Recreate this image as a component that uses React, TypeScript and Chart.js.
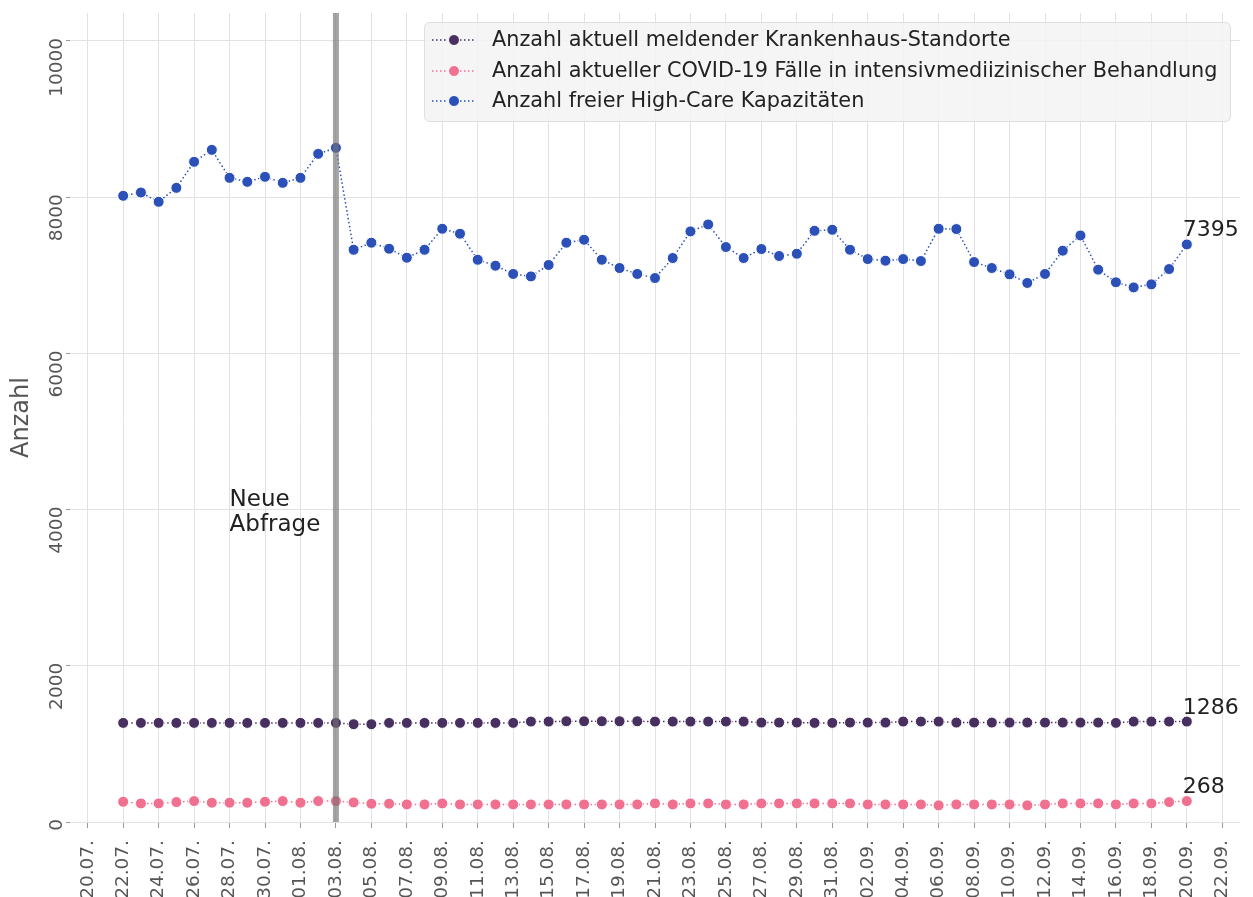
import React, { useEffect, useRef } from 'react';
import { Chart, registerables } from 'chart.js';

Chart.register(...registerables);

const dates = [
  '22.07.', '23.07.', '24.07.', '25.07.', '26.07.', '27.07.', '28.07.', '29.07.', '30.07.', '31.07.',
  '01.08.', '02.08.', '03.08.', '04.08.', '05.08.', '06.08.', '07.08.', '08.08.', '09.08.', '10.08.',
  '11.08.', '12.08.', '13.08.', '14.08.', '15.08.', '16.08.', '17.08.', '18.08.', '19.08.', '20.08.',
  '21.08.', '22.08.', '23.08.', '24.08.', '25.08.', '26.08.', '27.08.', '28.08.', '29.08.', '30.08.',
  '31.08.', '01.09.', '02.09.', '03.09.', '04.09.', '05.09.', '06.09.', '07.09.', '08.09.', '09.09.',
  '10.09.', '11.09.', '12.09.', '13.09.', '14.09.', '15.09.', '16.09.', '17.09.', '18.09.', '19.09.',
  '20.09.',
];

const tickLabels = [
  '20.07.', '22.07.', '24.07.', '26.07.', '28.07.', '30.07.', '01.08.', '03.08.', '05.08.', '07.08.',
  '09.08.', '11.08.', '13.08.', '15.08.', '17.08.', '19.08.', '21.08.', '23.08.', '25.08.', '27.08.',
  '29.08.', '31.08.', '02.09.', '04.09.', '06.09.', '08.09.', '10.09.', '12.09.', '14.09.', '16.09.',
  '18.09.', '20.09.', '22.09.',
];

const yTicks = [0, 2000, 4000, 6000, 8000, 10000];

const standorte = [
  1269, 1269, 1269, 1269, 1269, 1269, 1269, 1269, 1269, 1269,
  1269, 1269, 1269, 1252, 1252, 1269, 1269, 1269, 1269, 1269,
  1269, 1269, 1269, 1286, 1286, 1290, 1290, 1290, 1290, 1290,
  1286, 1286, 1286, 1286, 1286, 1286, 1273, 1273, 1273, 1269,
  1269, 1273, 1273, 1273, 1286, 1286, 1286, 1273, 1273, 1273,
  1273, 1273, 1273, 1273, 1273, 1273, 1269, 1286, 1286, 1286,
  1286,
];

const covidIcu = [
  259, 238, 238, 255, 268, 247, 247, 247, 259, 268,
  247, 268, 268, 251, 234, 234, 225, 225, 238, 225,
  225, 225, 225, 225, 225, 225, 225, 225, 225, 225,
  238, 225, 238, 238, 225, 225, 238, 238, 238, 238,
  238, 238, 225, 225, 225, 225, 213, 225, 225, 225,
  225, 213, 225, 238, 238, 238, 225, 238, 238, 255,
  268,
];

const highCare = [
  8018, 8060, 7941, 8120, 8453, 8606, 8248, 8197, 8261, 8184,
  8248, 8555, 8632, 7327, 7417, 7340, 7225, 7327, 7596, 7532,
  7199, 7123, 7017, 6986, 7132, 7417, 7455, 7199, 7093, 7017,
  6965, 7221, 7562, 7651, 7362, 7221, 7336, 7247, 7276, 7570,
  7583, 7327, 7208, 7187, 7208, 7183, 7596, 7592, 7170, 7093,
  7012, 6902, 7017, 7315, 7510, 7072, 6911, 6845, 6884, 7080,
  7395,
];

const seriesNames = [
  'Anzahl aktuell meldender Krankenhaus-Standorte',
  'Anzahl aktueller COVID-19 Fälle in intensivmediizinischer Behandlung',
  'Anzahl freier High-Care Kapazitäten',
];
const seriesColors = ['#47305f', '#f07090', '#2b50b8'];

const markerDate = '03.08.';
const annotationDate = '28.07.';
const annotationValue = 3730;
const annotationLines = ['Neue', 'Abfrage'];
const yTitle = 'Anzahl';

const FONT = '"DejaVu Sans", sans-serif';

export default function App() {
  const canvasRef = useRef<HTMLCanvasElement | null>(null);

  useEffect(() => {
    document.body.style.margin = '0';
    const canvas = canvasRef.current;
    if (!canvas) return;

    const seriesData = [standorte, covidIcu, highCare];
    const maxVal = Math.max(...highCare, ...standorte, ...covidIcu);

    const overlay = {
      id: 'overlay',
      afterDatasetsDraw(chart: any) {
        const { ctx, chartArea, scales } = chart;
        const xs = scales.x;
        const ys = scales.y;
        ctx.save();

        // vertical marker line
        const vx = xs.getPixelForValue(dates.indexOf(markerDate));
        ctx.strokeStyle = 'rgba(115,115,115,0.65)';
        ctx.lineWidth = 6;
        ctx.beginPath();
        ctx.moveTo(vx, chartArea.top);
        ctx.lineTo(vx, chartArea.bottom);
        ctx.stroke();

        // annotation
        ctx.fillStyle = '#222';
        ctx.font = `23px ${FONT}`;
        ctx.textAlign = 'left';
        ctx.textBaseline = 'alphabetic';
        const ax = xs.getPixelForValue(dates.indexOf(annotationDate));
        const ay = ys.getPixelForValue(annotationValue);
        annotationLines.forEach((line, i) => {
          ctx.fillText(line, ax, ay - (annotationLines.length - 1 - i) * 25);
        });

        // end labels
        ctx.font = `22px ${FONT}`;
        const last = dates.length - 1;
        seriesData.forEach((arr) => {
          const px = xs.getPixelForValue(last);
          const py = ys.getPixelForValue(arr[last]);
          ctx.fillText(String(arr[last]), px - 4, py - 8);
        });

        // legend
        const lx = 424, ly = 22, lw = 806, lh = 99;
        ctx.fillStyle = 'rgba(243,243,243,0.85)';
        ctx.strokeStyle = 'rgba(215,215,215,0.8)';
        ctx.lineWidth = 1;
        ctx.beginPath();
        (ctx as any).roundRect(lx + 0.5, ly + 0.5, lw, lh, 5);
        ctx.fill();
        ctx.stroke();
        const rows = [40, 71, 101];
        seriesNames.forEach((name, i) => {
          const ry = rows[i];
          ctx.strokeStyle = seriesColors[i];
          ctx.lineWidth = 1.5;
          ctx.setLineDash([1.5, 2.5]);
          ctx.beginPath();
          ctx.moveTo(432, ry);
          ctx.lineTo(476, ry);
          ctx.stroke();
          ctx.setLineDash([]);
          ctx.fillStyle = seriesColors[i];
          ctx.strokeStyle = '#fff';
          ctx.lineWidth = 1;
          ctx.beginPath();
          ctx.arc(454, ry, 5.5, 0, Math.PI * 2);
          ctx.fill();
          ctx.stroke();
          ctx.fillStyle = '#222';
          ctx.font = `20.8px ${FONT}`;
          ctx.textAlign = 'left';
          ctx.textBaseline = 'middle';
          ctx.fillText(name, 492, ry + 1);
        });
        ctx.restore();
      },
      afterDraw(chart: any) {
        const { ctx, chartArea, scales } = chart;
        const xs = scales.x;
        const ys = scales.y;
        ctx.save();
        ctx.fillStyle = '#555';
        ctx.font = `18.5px ${FONT}`;
        // y tick labels (rotated)
        yTicks.forEach((v) => {
          const py = ys.getPixelForValue(v);
          ctx.save();
          ctx.translate(62, py - 3);
          ctx.rotate(-Math.PI / 2);
          ctx.textAlign = 'right';
          ctx.textBaseline = 'alphabetic';
          ctx.fillText(String(v), 0, 0);
          ctx.restore();
        });
        // x tick labels (rotated)
        tickLabels.forEach((lab, k) => {
          const px = xs.getPixelForValue(2 * k - 2);
          ctx.save();
          ctx.translate(px, chartArea.bottom + 18);
          ctx.rotate(-Math.PI / 2);
          ctx.textAlign = 'right';
          ctx.textBaseline = 'middle';
          ctx.fillText(lab, 0, 0);
          ctx.restore();
        });
        // y title
        ctx.save();
        ctx.font = `24px ${FONT}`;
        ctx.translate(22, (chartArea.top + chartArea.bottom) / 2);
        ctx.rotate(-Math.PI / 2);
        ctx.textAlign = 'center';
        ctx.textBaseline = 'middle';
        ctx.fillText(yTitle, 0, 0);
        ctx.restore();
        ctx.restore();
      },
    };

    const chart = new Chart(canvas, {
      type: 'line',
      data: {
        datasets: seriesData.map((arr, i) => ({
          label: seriesNames[i],
          data: dates.map((_, j) => ({ x: j, y: arr[j] })),
          borderColor: seriesColors[i],
          backgroundColor: seriesColors[i],
          pointBackgroundColor: seriesColors[i],
          pointBorderColor: '#ffffff',
          pointBorderWidth: 1,
          pointRadius: 5.5,
          borderWidth: 1.5,
          borderDash: [1.5, 2.5],
          tension: 0,
          fill: false,
        })),
      },
      options: {
        responsive: false,
        animation: false,
        devicePixelRatio: 1,
        layout: { padding: { top: 13, right: 13, left: 0, bottom: 0 } },
        plugins: {
          legend: { display: false },
          tooltip: { enabled: false },
        },
        scales: {
          x: {
            type: 'linear',
            min: -3,
            max: dates.length + 2,
            border: { display: false },
            grid: {
              color: '#e2e2e2',
              lineWidth: 1,
              tickLength: 6,
              tickColor: '#999',
            },
            ticks: { display: false },
            afterBuildTicks: (scale: any) => {
              scale.ticks = tickLabels.map((_, k) => ({ value: 2 * k - 2 }));
            },
            afterFit: (scale: any) => {
              scale.height = 75;
            },
          },
          y: {
            type: 'linear',
            min: 0,
            max: maxVal * 1.2,
            border: { display: false },
            grid: {
              color: '#e2e2e2',
              lineWidth: 1,
              tickLength: 4,
              tickColor: '#999',
            },
            ticks: { display: false },
            afterBuildTicks: (scale: any) => {
              scale.ticks = yTicks.map((v) => ({ value: v }));
            },
            afterFit: (scale: any) => {
              scale.width = 70;
            },
          },
        },
      },
      plugins: [overlay],
    } as any);

    return () => {
      chart.destroy();
    };
  }, []);

  return (
    <div style={{ width: 1253, height: 897, background: '#fff' }}>
      <canvas ref={canvasRef} width={1253} height={897} style={{ display: 'block' }} />
    </div>
  );
}
